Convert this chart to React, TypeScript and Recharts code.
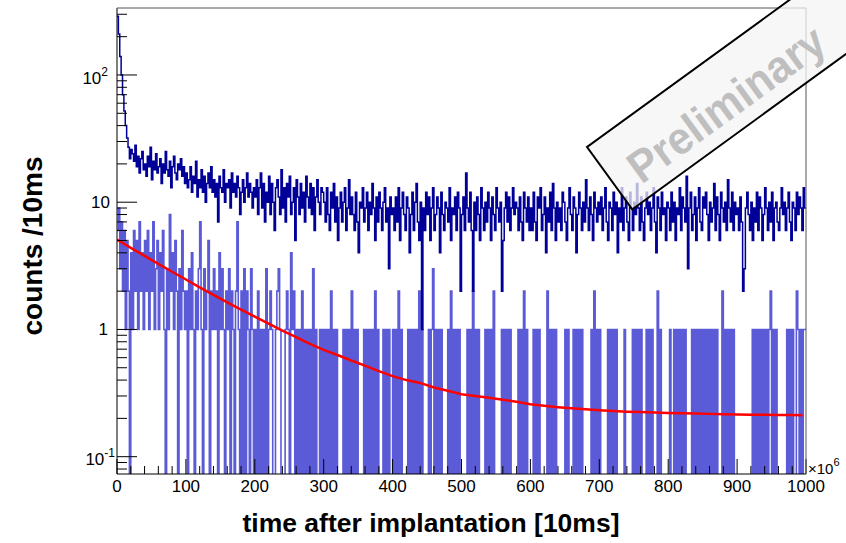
import React from 'react';
import { LineChart, Line, XAxis, YAxis } from 'recharts';

// histogram bin width in units of 10 ms
const BIN_WIDTH = 2;

// total decay-time histogram (dark blue), counts per bin
const darkCounts = [
  290, 210, 140, 100, 70, 52, 40, 32, 27, 22,
  26, 24, 21, 28, 19, 23, 17, 22, 25, 18, 20, 16, 23, 19, 27, 15, 21, 18, 24, 17,
  19, 22, 14, 20, 17, 25, 18, 16, 21, 13, 19, 23, 17, 15, 20, 18, 22, 16, 19, 14,
  17, 13, 15, 19, 12, 16, 14, 21, 11, 15, 13, 18, 12, 16, 10, 14, 17, 13, 19, 12,
  15, 11, 14, 7, 16, 13, 12, 18, 10, 14, 13, 15, 9, 17, 12, 14, 11, 16, 13, 8,
  12, 15, 10, 13, 17, 11, 14, 12, 9, 13,
  11, 15, 8, 13, 17, 9, 14, 7, 12, 10, 16, 8, 14, 10, 6, 13, 15, 11, 8, 18,
  9, 13, 7, 14, 11, 16, 8, 10, 13, 5, 15, 11, 8, 14, 9, 12, 7, 16, 11, 9,
  14, 8, 13, 6, 11, 15, 10, 8, 13, 12,
  10, 7, 13, 8, 6, 12, 9, 14, 7, 11, 5, 9, 12, 7, 10, 13, 6, 9, 15, 8,
  11, 8, 6, 12, 7, 4, 10, 9, 13, 7, 9, 12, 6, 10, 8, 14, 9, 5, 11, 7,
  12, 9, 6, 10, 13, 7, 9, 3, 11, 8,
  9, 6, 11, 7, 13, 5, 9, 12, 8, 6, 11, 9, 4, 8, 12, 6, 10, 14, 7, 5,
  10, 1, 9, 6, 12, 8, 11, 5, 9, 13, 6, 8, 11, 9, 4, 12, 8, 6, 10, 9,
  7, 13, 5, 9, 8, 11, 6, 12, 9, 2,
  8, 11, 6, 17, 9, 7, 12, 6, 2, 10, 6, 11, 8, 5, 13, 9, 6, 10, 7, 12,
  9, 5, 11, 8, 6, 13, 9, 7, 10, 2, 5, 9, 12, 7, 11, 6, 9, 13, 8, 10,
  9, 6, 11, 7, 5, 12, 9, 7, 11, 6,
  9, 6, 12, 7, 5, 11, 9, 13, 6, 8, 11, 4, 9, 7, 12, 6, 14, 9, 5, 10,
  7, 9, 6, 12, 10, 7, 5, 9, 13, 8, 6, 11, 9, 4, 8, 12, 9, 6, 10, 7,
  15, 9, 6, 11, 8, 5, 12, 9, 7, 10,
  8, 11, 6, 9, 13, 7, 5, 10, 9, 6, 12, 8, 10, 4, 9, 7, 13, 6, 9, 11,
  7, 5, 12, 9, 6, 10, 8, 14, 9, 6, 11, 7, 5, 9, 12, 8, 10, 6, 9, 13,
  7, 4, 11, 9, 6, 12, 8, 9, 5, 10,
  9, 6, 12, 7, 10, 5, 9, 8, 13, 6, 11, 9, 7, 16, 3, 9, 12, 6, 8, 11,
  5, 9, 13, 7, 6, 11, 9, 12, 8, 5, 10, 7, 9, 14, 6, 11, 8, 5, 12, 9,
  7, 10, 6, 15, 9, 7, 12, 6, 10, 8,
  9, 6, 11, 7, 2, 3, 9, 12, 8, 6, 10, 5, 9, 7, 12, 6, 11, 9, 5, 8,
  13, 9, 6, 10, 7, 12, 5, 9, 10, 7, 6, 9, 13, 8, 10, 6, 9, 12, 7, 5,
  10, 9, 6, 12, 8, 11, 9, 6, 13, 9,
];

// gated decay-time histogram (light blue), counts per bin
const lightCounts = [
  6, 9, 3, 7, 2, 6, 1, 5, 2, 0, 4, 1, 6, 2, 5, 1, 7, 2, 4, 1,
  5, 2, 6, 1, 4, 2, 7, 1, 3, 5, 1, 4, 2, 6, 1, 0, 3, 1, 8, 2,
  4, 1, 5, 2, 0, 3, 1, 6, 2, 1,
  2, 0, 3, 1, 4, 1, 0, 2, 1, 3, 7, 1, 0, 3, 1, 2, 5, 0, 2, 1,
  3, 1, 2, 0, 4, 1, 3, 1, 0, 2, 1, 3, 0, 2, 1, 0, 2, 7, 1, 0,
  2, 0, 3, 0, 2, 1, 0, 3, 1, 0,
  1, 0, 2, 0, 1, 0, 1, 0, 3, 0, 1, 2, 1, 0, 0, 1, 2, 3, 1, 0,
  0, 0, 1, 2, 1, 0, 4, 1, 2, 0, 1, 0, 1, 0, 2, 0, 1, 0, 1, 0,
  1, 0, 3, 0, 1, 0, 0, 1, 0, 1,
  0, 1, 0, 1, 0, 2, 0, 1, 0, 1, 0, 0, 0, 0, 1, 0, 1, 0, 1, 0,
  2, 0, 1, 0, 1, 0, 0, 0, 0, 1, 0, 1, 0, 1, 0, 1, 0, 2, 0, 1,
  0, 0, 0, 1, 0, 1, 0, 1, 0, 0,
  1, 0, 1, 0, 2, 0, 1, 0, 0, 0, 0, 1, 0, 1, 0, 1, 0, 1, 0, 2,
  0, 1, 0, 0, 0, 0, 1, 0, 1, 3, 0, 1, 0, 1, 0, 1, 0, 0, 0, 0,
  1, 0, 2, 0, 1, 0, 1, 0, 1, 0,
  0, 0, 0, 0, 1, 0, 1, 0, 2, 0, 1, 0, 1, 0, 0, 0, 0, 1, 0, 1,
  0, 1, 0, 2, 0, 0, 0, 0, 0, 1, 0, 1, 0, 1, 0, 1, 0, 0, 0, 0,
  0, 1, 0, 1, 0, 2, 0, 1, 0, 0,
  0, 0, 1, 0, 1, 0, 1, 0, 0, 0, 0, 0, 2, 0, 1, 0, 1, 0, 1, 0,
  0, 0, 0, 0, 0, 1, 0, 1, 0, 0, 0, 1, 0, 1, 0, 1, 0, 1, 0, 0,
  0, 0, 0, 0, 1, 0, 2, 0, 1, 0,
  1, 0, 0, 0, 0, 0, 1, 0, 1, 0, 1, 0, 1, 0, 0, 0, 0, 0, 1, 0,
  0, 0, 0, 0, 1, 0, 1, 0, 1, 0, 1, 0, 0, 0, 1, 0, 1, 0, 1, 0,
  0, 0, 2, 0, 1, 0, 0, 0, 0, 0,
  0, 1, 0, 0, 1, 0, 1, 0, 1, 0, 1, 0, 1, 0, 0, 0, 0, 1, 0, 1,
  0, 1, 0, 1, 0, 1, 0, 1, 0, 1, 0, 1, 0, 1, 0, 1, 0, 0, 0, 2,
  0, 1, 0, 1, 0, 1, 0, 1, 0, 0,
  0, 0, 0, 0, 0, 0, 0, 0, 0, 0, 0, 1, 0, 1, 0, 1, 0, 1, 0, 1,
  0, 1, 0, 1, 2, 0, 1, 0, 1, 0, 0, 0, 0, 0, 0, 0, 1, 0, 1, 0,
  1, 0, 0, 2, 1, 0, 1, 0, 1, 1,
];

// fitted decay curve (red)
const fitT = [
  0, 20, 40, 60, 80, 100, 120, 140, 160, 180, 200, 220, 240, 260, 280, 300, 320, 340, 360, 380,
  400, 420, 440, 460, 480, 500, 520, 540, 560, 580, 600, 620, 640, 660, 680, 700, 720, 740, 760, 780,
  800, 820, 840, 860, 880, 900, 920, 940, 960, 980, 995,
];
const fitY = [
  5.08, 4.38, 3.79, 3.28, 2.84, 2.47, 2.14, 1.87, 1.63, 1.43, 1.26, 1.11, 0.98, 0.87, 0.77, 0.69, 0.63, 0.57, 0.52, 0.47,
  0.43, 0.4, 0.38, 0.35, 0.33, 0.31, 0.3, 0.29, 0.28, 0.27, 0.258, 0.251, 0.245, 0.24, 0.236, 0.232, 0.229, 0.226, 0.224, 0.222,
  0.22, 0.219, 0.218, 0.217, 0.216, 0.215, 0.214, 0.2135, 0.213, 0.2125, 0.212,
];

const xTicks = [
  0, 20, 40, 60, 80, 100, 120, 140, 160, 180, 200, 220, 240, 260, 280, 300, 320, 340, 360, 380,
  400, 420, 440, 460, 480, 500, 520, 540, 560, 580, 600, 620, 640, 660, 680, 700, 720, 740, 760, 780,
  800, 820, 840, 860, 880, 900, 920, 940, 960, 980, 1000,
];
const xLabelTicks = [0, 100, 200, 300, 400, 500, 600, 700, 800, 900, 1000];

const yTicks = [
  0.08, 0.09, 0.1, 0.2, 0.3, 0.4, 0.5, 0.6, 0.7, 0.8, 0.9,
  1, 2, 3, 4, 5, 6, 7, 8, 9,
  10, 20, 30, 40, 50, 60, 70, 80, 90,
  100, 200, 300,
];
const yLabelTicks = [0.1, 1, 10, 100];

const Y_MIN = 0.0731;
const Y_MAX = 336;
const FONT = '"Liberation Sans", Arial, Helvetica, sans-serif';

const toRows = (counts: number[]) => {
  const rows = counts.map((c, i) => ({ x: i * BIN_WIDTH, y: c > 0 ? c : Y_MIN / 100 }));
  rows.push({ x: counts.length * BIN_WIDTH, y: rows[rows.length - 1].y });
  return rows;
};
const darkRows = toRows(darkCounts);
const lightRows = toRows(lightCounts);
const fitRows = fitT.map((t, i) => ({ x: t, y: fitY[i] }));

const XTick = (props: any) => {
  const { x, y, payload } = props;
  const v = payload.value as number;
  const major = xLabelTicks.includes(v);
  return (
    <g>
      <line x1={x} x2={x} y1={y} y2={y - (major ? 15 : 8)} stroke="#000" strokeWidth={1} />
      {major && (
        <text x={x} y={y + 18} textAnchor="middle" fontSize={17} fontFamily={FONT} fill="#000">
          {v}
        </text>
      )}
    </g>
  );
};

const YTick = (props: any) => {
  const { x, y, payload } = props;
  const v = payload.value as number;
  const major = yLabelTicks.includes(v);
  let label: React.ReactNode = null;
  if (major) {
    if (v === 100) {
      label = (
        <text x={x - 9} y={y + 9} textAnchor="end" fontSize={17} fontFamily={FONT} fill="#000">
          10<tspan dy={-8} fontSize={12}>2</tspan>
        </text>
      );
    } else if (v === 0.1) {
      label = (
        <text x={x - 2} y={y + 8} textAnchor="end" fontSize={17} fontFamily={FONT} fill="#000">
          10<tspan dy={-8} fontSize={12}>-1</tspan>
        </text>
      );
    } else {
      label = (
        <text x={x - (v === 1 ? 9 : 7)} y={y + 6} textAnchor="end" fontSize={17} fontFamily={FONT} fill="#000">
          {v}
        </text>
      );
    }
  }
  return (
    <g>
      <line x1={x} x2={x + (major ? 20 : 10)} y1={y} y2={y} stroke="#000" strokeWidth={1} />
      {label}
    </g>
  );
};

export default function App() {
  return (
    <div style={{ position: 'absolute', left: 0, top: 0, width: 846, height: 543, overflow: 'hidden', background: '#fff' }}>
      <LineChart width={846} height={543} margin={{ top: 8, right: 40, bottom: 39, left: 0 }}>
        <XAxis
          dataKey="x"
          type="number"
          domain={[0, 1000]}
          ticks={xTicks}
          interval={0}
          height={30}
          tickSize={0}
          tickMargin={0}
          tickLine={false}
          axisLine={{ stroke: '#000', strokeWidth: 1 }}
          tick={<XTick />}
          allowDataOverflow
        />
        <YAxis
          type="number"
          scale="log"
          domain={[Y_MIN, Y_MAX]}
          ticks={yTicks}
          interval={0}
          width={117}
          tickSize={0}
          tickMargin={0}
          tickLine={false}
          axisLine={{ stroke: '#000', strokeWidth: 1 }}
          tick={<YTick />}
          allowDataOverflow
        />
        <Line
          data={lightRows}
          dataKey="y"
          type="stepAfter"
          stroke="#5b5bd8"
          strokeWidth={1.6}
          dot={false}
          activeDot={false}
          isAnimationActive={false}
        />
        <Line
          data={darkRows}
          dataKey="y"
          type="stepAfter"
          stroke="#000099"
          strokeWidth={1.5}
          dot={false}
          activeDot={false}
          isAnimationActive={false}
        />
        <Line
          data={fitRows}
          dataKey="y"
          type="linear"
          stroke="#ff0000"
          strokeWidth={2.5}
          dot={false}
          activeDot={false}
          isAnimationActive={false}
        />
      </LineChart>
      <svg
        width={846}
        height={543}
        style={{ position: 'absolute', left: 0, top: 0, pointerEvents: 'none', overflow: 'hidden' }}
      >
        <line x1={117} x2={806} y1={8} y2={8} stroke="#555" strokeWidth={1} />
        <line x1={806} x2={806} y1={8} y2={474} stroke="#555" strokeWidth={1} />
        <text x={808} y={474} fontSize={15} fontFamily={FONT} fill="#000">
          ×10<tspan dy={-8} fontSize={11}>6</tspan>
        </text>
        <text x={431} y={532} textAnchor="middle" fontSize={26.5} fontWeight="bold" fontFamily={FONT} fill="#000">
          time after implantation [10ms]
        </text>
        <text
          transform="translate(42,246) rotate(-90)"
          textAnchor="middle"
          fontSize={28}
          fontWeight="bold"
          fontFamily={FONT}
          fill="#000"
        >
          counts /10ms
        </text>
        <g transform="translate(731,90) rotate(-36)">
          <rect x={-150} y={-38.5} width={300} height={77} fill="rgba(244,244,244,0.75)" stroke="#000" strokeWidth={2} />
          <text
            x={-12}
            y={24}
            textAnchor="middle"
            fontSize={45}
            fontWeight="bold"
            fontFamily={FONT}
            fill="#bfbfbf"
            textLength={232}
            lengthAdjust="spacingAndGlyphs"
          >
            Preliminary
          </text>
        </g>
      </svg>
    </div>
  );
}
